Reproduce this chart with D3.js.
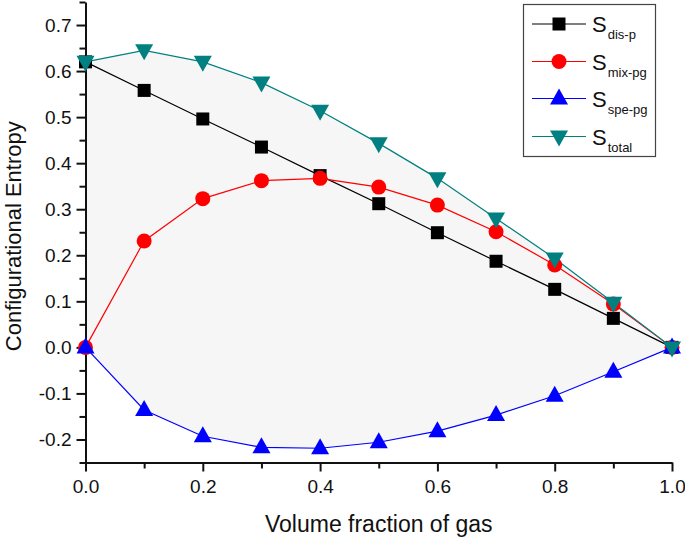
<!DOCTYPE html>
<html><head><meta charset="utf-8">
<script src="https://cdn.jsdelivr.net/npm/d3@7"></script>
<style>body{margin:0;background:#fff}svg{display:block}text{font-family:"Liberation Sans",Arial,sans-serif;fill:#111}</style>
</head><body><svg width="685" height="538"></svg>
<script>
const xValues = [0, 0.1, 0.2, 0.3, 0.4, 0.5, 0.6, 0.7, 0.8, 0.9, 1.0];
const sDis = [0.62, 0.558, 0.496, 0.435, 0.373, 0.312, 0.249, 0.187, 0.126, 0.063, 0];
const sMix = [0, 0.231, 0.323, 0.362, 0.367, 0.348, 0.309, 0.251, 0.179, 0.094, 0];
const sSpe = [0, -0.136, -0.193, -0.217, -0.219, -0.206, -0.182, -0.147, -0.105, -0.053, 0];
const sTot = [0.62, 0.645, 0.62, 0.575, 0.514, 0.443, 0.367, 0.28, 0.193, 0.097, 0];
const xTicks = [0, 0.2, 0.4, 0.6, 0.8, 1.0];
const xMinor = [0.1, 0.3, 0.5, 0.7, 0.9];
const yTicks = [-0.2, -0.1, 0, 0.1, 0.2, 0.3, 0.4, 0.5, 0.6, 0.7];
const yMinor = [-0.25, -0.15, -0.05, 0.05, 0.15, 0.25, 0.35, 0.45, 0.55, 0.65, 0.75];
const seriesNames = ["dis-p", "mix-pg", "spe-pg", "total"];
const seriesColors = ["#000000", "#ff0000", "#0000ff", "#008080"];
const seriesShapes = ["square", "circle", "up", "down"];
const xTitle = "Volume fraction of gas";
const yTitle = "Configurational Entropy";

const series = [sDis, sMix, sSpe, sTot];
const svg = d3.select("svg");
const x = d3.scaleLinear().domain([0, 1]).range([85.5, 672]);
const y = d3.scaleLinear().domain([-0.25, 0.75]).range([462.5, 2]);

// faint shaded region between total and spe-pg
const area = d3.area().x((d, i) => x(xValues[i])).y0((d, i) => y(sSpe[i])).y1((d, i) => y(sTot[i]));
svg.append("path").datum(sTot).attr("d", area).attr("fill", "#f7f6f6");

// axes
const fmt = d => d.toFixed(1);
const gx = svg.append("g").attr("transform", `translate(0,${y(-0.25)})`)
  .call(d3.axisBottom(x).tickValues(xTicks).tickFormat(fmt).tickSize(9).tickSizeOuter(0).tickPadding(8));
gx.append("g").call(d3.axisBottom(x).tickValues(xMinor).tickFormat("").tickSize(6).tickSizeOuter(0))
  .select(".domain").remove();
const gy = svg.append("g").attr("transform", `translate(${x(0)},0)`)
  .call(d3.axisLeft(y).tickValues(yTicks).tickFormat(fmt).tickSize(9).tickSizeOuter(0).tickPadding(5));
gy.append("g").call(d3.axisLeft(y).tickValues(yMinor).tickFormat("").tickSize(6).tickSizeOuter(0))
  .select(".domain").remove();
svg.selectAll(".domain").attr("stroke", "#111").attr("stroke-width", 2);
svg.selectAll(".tick line").attr("stroke", "#111").attr("stroke-width", 2);
svg.selectAll(".tick text").attr("font-size", 19).attr("font-family", "Liberation Sans, Arial, sans-serif").attr("fill", "#111");

svg.append("text").attr("x", (x(0) + x(1)) / 2).attr("y", 532).attr("text-anchor", "middle")
  .attr("font-size", 23).text(xTitle);
svg.append("text").attr("transform", `translate(21,${(y(-0.25) + y(0.75)) / 2 + 4}) rotate(-90)`)
  .attr("text-anchor", "middle").attr("font-size", 22).text(yTitle);

// marker drawing
function marker(g, shape, color, cx, cy) {
  if (shape === "square") g.append("rect").attr("x", cx - 6.5).attr("y", cy - 6.5).attr("width", 13).attr("height", 13).attr("fill", color);
  else if (shape === "circle") g.append("circle").attr("cx", cx).attr("cy", cy).attr("r", 7.5).attr("fill", color);
  else if (shape === "up") g.append("path").attr("d", `M${cx},${cy - 10}L${cx + 9},${cy + 6}L${cx - 9},${cy + 6}Z`).attr("fill", color);
  else g.append("path").attr("d", `M${cx},${cy + 10}L${cx + 9},${cy - 6}L${cx - 9},${cy - 6}Z`).attr("fill", color);
}

const line = d3.line().x((d, i) => x(xValues[i])).y(d => y(d));
series.forEach((s, k) => {
  svg.append("path").datum(s).attr("d", line).attr("fill", "none")
    .attr("stroke", seriesColors[k]).attr("stroke-width", 1.2);
});
series.forEach((s, k) => {
  const g = svg.append("g");
  s.forEach((v, i) => marker(g, seriesShapes[k], seriesColors[k], x(xValues[i]), y(v)));
});

// legend
const lg = svg.append("g");
lg.append("rect").attr("x", 523.5).attr("y", 4.5).attr("width", 132).attr("height", 152)
  .attr("fill", "#fff").attr("stroke", "#444").attr("stroke-width", 1.2);
const rowY = [24, 61.5, 98.5, 136.5];
seriesNames.forEach((n, k) => {
  lg.append("line").attr("x1", 532).attr("x2", 586).attr("y1", rowY[k]).attr("y2", rowY[k])
    .attr("stroke", seriesColors[k]).attr("stroke-width", 1.2);
  marker(lg, seriesShapes[k], seriesColors[k], 559, rowY[k]);
  const t = lg.append("text").attr("x", 592).attr("y", rowY[k] + 8).attr("font-size", 22);
  t.append("tspan").text("S");
  t.append("tspan").attr("font-size", 13).attr("dy", 7).attr("dx", 1).text(n);
});
</script></body></html>
